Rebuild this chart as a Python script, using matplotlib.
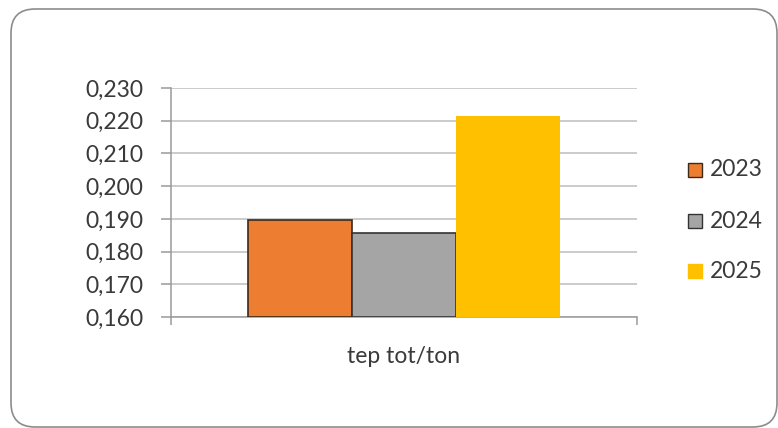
import matplotlib.pyplot as plt
from matplotlib.patches import FancyBboxPatch, Rectangle
import numpy as np

categories = ["tep tot/ton"]
years = ["2023", "2024", "2025"]
values = [0.1897, 0.1858, 0.2215]
colors = ["#ED7D31", "#A5A5A5", "#FFC000"]
edges = ["#3a2a1a", "#333333", "none"]
y_ticks = [0.160, 0.170, 0.180, 0.190, 0.200, 0.210, 0.220, 0.230]

plt.rcParams['font.family'] = ['Lato', 'DejaVu Sans']

W, H = 778, 428
fig = plt.figure(figsize=(W / 100, H / 100), dpi=100)

# rounded frame around the chart (inch coords, origin bottom-left)
frame = FancyBboxPatch((11 / 100, (H - 427) / 100), (777 - 11) / 100, (427 - 9) / 100,
                       boxstyle="round,pad=0,rounding_size=0.24",
                       transform=fig.dpi_scale_trans, facecolor="white",
                       edgecolor="#8c8c8c", linewidth=1.2, zorder=-5)
fig.patches.append(frame)

ax = fig.add_axes([171 / W, 1 - 317 / H, (637 - 171) / W, (317 - 88) / H])
ax.set_facecolor("none")

bar_w = 104 / 466
x = np.arange(len(categories))
for i, (yr, v) in enumerate(zip(years, values)):
    ax.bar(x + (i - 1) * bar_w, v - y_ticks[0], bottom=y_ticks[0], width=bar_w,
           color=colors[i], edgecolor=edges[i], linewidth=1.2 if edges[i] != "none" else 0,
           label=yr, zorder=3)

ax.set_xlim(-0.5, 0.5)
ax.set_ylim(y_ticks[0], y_ticks[-1])
ax.set_yticks(y_ticks)
ax.set_yticklabels([f"{t:.3f}".replace(".", ",") for t in y_ticks])
ax.yaxis.grid(True, color="#bdbdbd", linewidth=1.1, zorder=0)

for s in ["top", "right"]:
    ax.spines[s].set_visible(False)
ax.spines["left"].set_color("#9a9a9a")
ax.spines["bottom"].set_color("#9a9a9a")
ax.spines["left"].set_linewidth(1.1)
ax.spines["bottom"].set_linewidth(1.1)

ax.tick_params(axis="y", length=7, width=1.1, color="#9a9a9a", pad=13,
               labelsize=16.5, labelcolor="#3a3a3a")
ax.set_xticks([-0.5, 0.5], minor=True)
ax.tick_params(axis="x", which="minor", length=6, width=1.1, color="#9a9a9a")
ax.set_xticks(x)
ax.set_xticklabels(categories)
ax.tick_params(axis="x", which="major", length=0, pad=21, labelsize=16.5,
               labelcolor="#3a3a3a")

# legend squares and labels on the right
leg_y = [170, 221, 271]
for yr, c, e, yy in zip(years, colors, edges, leg_y):
    fig.patches.append(Rectangle((688 / W, 1 - (yy + 7) / H), 14 / W, 14 / H,
                                 transform=fig.transFigure, facecolor=c,
                                 edgecolor=e if e != "none" else c, linewidth=1))
    fig.text(710 / W, 1 - yy / H, yr, fontsize=16.5, color="#3a3a3a", va="center")

fig.savefig("out.png", dpi=100)
